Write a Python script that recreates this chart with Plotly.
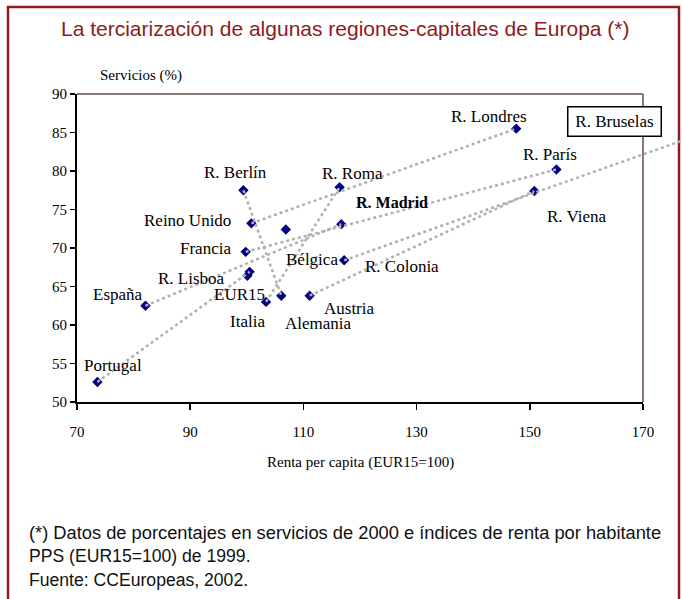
import plotly.graph_objects as go

# ---------------- data ----------------
names = ["Portugal", "España", "Francia", "R. Lisboa", "EUR15", "Italia", "Alemania",
         "Austria", "Bélgica", "R. Colonia", "R. Berlín", "Reino Unido", "R. Roma",
         "R. Madrid", "R. Londres", "R. París", "R. Viena", "R. Bruselas"]
renta = [73.6, 82.1, 99.8, 100.5, 100.1, 103.4, 106.1,
         111.1, 117.2, 106.9, 99.4, 100.8, 116.4,
         116.7, 147.6, 154.7, 150.8, 184.0]
servicios = [52.6, 62.5, 69.5, 66.9, 66.4, 63.0, 63.8,
             63.8, 68.4, 72.4, 77.5, 73.2, 77.9,
             73.1, 85.5, 80.2, 77.4, 85.8]

# country -> capital-region links (dotted)
links = [("Portugal", "R. Lisboa"), ("España", "R. Madrid"), ("Francia", "R. París"),
         ("Reino Unido", "R. Londres"), ("R. Berlín", "Alemania"), ("Italia", "R. Roma"),
         ("Austria", "R. Viena"), ("Bélgica", "R. Bruselas")]

x_ticks = [70, 90, 110, 130, 150, 170]
y_ticks = [50, 55, 60, 65, 70, 75, 80, 85, 90]

title_text = "La terciarización de algunas regiones-capitales de Europa (*)"
note_lines = ["(*) Datos de porcentajes en servicios de 2000 e índices de renta por habitante",
              "PPS (EUR15=100) de 1999.",
              "Fuente: CCEuropeas, 2002."]

# ---------------- layout helpers ----------------
W, H = 682, 599
L, R, T, B = 77, 0, 94, 197
PW, PH = W - L - R, H - T - B
D1 = (643 - L) / PW           # main axis domain end (plot right border)


def px(xp):
    return (xp - L) / PW


def py(yp):
    return (H - B - yp) / PH


SERIF = "Liberation Serif, Times New Roman, serif"
SANS = "Liberation Sans, Arial, sans-serif"
DARKRED = "#8e1b1b"

idx = {n: i for i, n in enumerate(names)}

fig = go.Figure()

for a, b in links:
    ia, ib = idx[a], idx[b]
    fig.add_trace(go.Scatter(
        x=[renta[ia], renta[ib]], y=[servicios[ia], servicios[ib]],
        mode="lines", xaxis="x2", yaxis="y",
        line=dict(color="#b0b0b0", width=2.5, dash="dot"),
        hoverinfo="skip", showlegend=False))

fig.add_trace(go.Scatter(
    x=renta, y=servicios, mode="markers", text=names,
    marker=dict(symbol="diamond", size=8, color="#000080"),
    showlegend=False, cliponaxis=True))

# label offsets (pixels) relative to each point
label_shift = {
    "Portugal": (16, 16), "España": (-27, 11), "Francia": (-40, 3),
    "R. Lisboa": (-58, -7), "EUR15": (-8, -19), "Italia": (-19, -20),
    "Alemania": (37, -28), "Austria": (40, -13), "Bélgica": (-32, 1),
    "R. Colonia": (116, -37), "R. Berlín": (-8, 18), "Reino Unido": (-64, 3),
    "R. Roma": (13, 14), "R. Madrid": (51, 22), "R. Londres": (-27, 12),
    "R. París": (-6, 15), "R. Viena": (43, -25),
}

annotations = []
for n, (dx, dy) in label_shift.items():
    i = idx[n]
    txt = "<b>%s</b>" % n if n == "R. Madrid" else n
    annotations.append(dict(
        x=renta[i], y=servicios[i], xref="x", yref="y", text=txt, showarrow=False,
        xshift=dx, yshift=dy, xanchor="center", yanchor="middle",
        font=dict(family=SERIF, size=17 if n != "R. Madrid" else 16, color="black")))

# off-scale Brussels label box
annotations.append(dict(
    x=px(614.5), y=py(121.5), xref="paper", yref="paper", text="R. Bruselas",
    showarrow=False, xanchor="center", yanchor="middle", width=92, height=28,
    bordercolor="black", borderwidth=1.5, borderpad=0, bgcolor="white",
    font=dict(family=SERIF, size=17, color="black")))

# axis titles
annotations.append(dict(x=px(141), y=py(76), xref="paper", yref="paper",
                        text="Servicios (%)", showarrow=False,
                        xanchor="center", yanchor="middle",
                        font=dict(family=SERIF, size=15, color="black")))
annotations.append(dict(x=px(360), y=py(462), xref="paper", yref="paper",
                        text="Renta per capita (EUR15=100)", showarrow=False,
                        xanchor="center", yanchor="middle",
                        font=dict(family=SERIF, size=15, color="black")))

# title
annotations.append(dict(x=px(345), y=py(28), xref="paper", yref="paper",
                        text=title_text, showarrow=False,
                        xanchor="center", yanchor="middle",
                        font=dict(family=SANS, size=21, color=DARKRED)))

# footnote
note_sizes = [18.3, 17.6, 17.6]
for k, line in enumerate(note_lines):
    annotations.append(dict(x=px(27), y=py(532 + 24 * k), xref="paper", yref="paper",
                            text=line, showarrow=False, xanchor="left", yanchor="middle",
                            font=dict(family=SANS, size=note_sizes[k], color="#111111")))

shapes = [
    # outer frame
    dict(type="rect", xref="paper", yref="paper", x0=px(8), x1=px(679), y0=py(603), y1=py(7),
         line=dict(color=DARKRED, width=2.5), fillcolor="rgba(0,0,0,0)", layer="below"),
    # plot area top / right border
    dict(type="line", xref="paper", yref="paper", x0=0, x1=D1, y0=1, y1=1,
         line=dict(color="#8a7878", width=2)),
    dict(type="line", xref="paper", yref="paper", x0=D1, x1=D1, y0=0, y1=1,
         line=dict(color="#8a7878", width=2)),
]

fig.update_layout(
    width=W, height=H, autosize=False,
    margin=dict(l=L, r=R, t=T, b=B, pad=0, autoexpand=False),
    paper_bgcolor="white", plot_bgcolor="rgba(0,0,0,0)", hovermode=False,
    xaxis=dict(domain=[0, D1], range=[70, 170], tickvals=x_ticks, showgrid=False,
               zeroline=False, showline=True, linecolor="black", linewidth=2,
               ticks="outside", ticklen=6, tickwidth=1.5, tickcolor="black",
               ticklabelstandoff=9,
               tickfont=dict(family=SERIF, size=15, color="black"), anchor="y",
               automargin=False),
    xaxis2=dict(domain=[0, 1], range=[70, 70 + 100 / D1], visible=False, anchor="y",
                showgrid=False, zeroline=False, automargin=False),
    yaxis=dict(range=[50, 90], tickvals=y_ticks, showgrid=False, zeroline=False,
               showline=True, linecolor="black", linewidth=2, ticks="outside",
               ticklen=5, tickwidth=1.5, tickcolor="black",
               tickfont=dict(family=SERIF, size=15, color="black"), anchor="x",
               automargin=False),
    annotations=annotations, shapes=shapes, showlegend=False,
)

fig.write_html("out.html",
               config={"displayModeBar": False, "responsive": False, "staticPlot": True},
               post_script="document.body.style.margin='0';"
                           "document.body.style.overflow='hidden';"
                           "document.documentElement.style.overflow='hidden';")
